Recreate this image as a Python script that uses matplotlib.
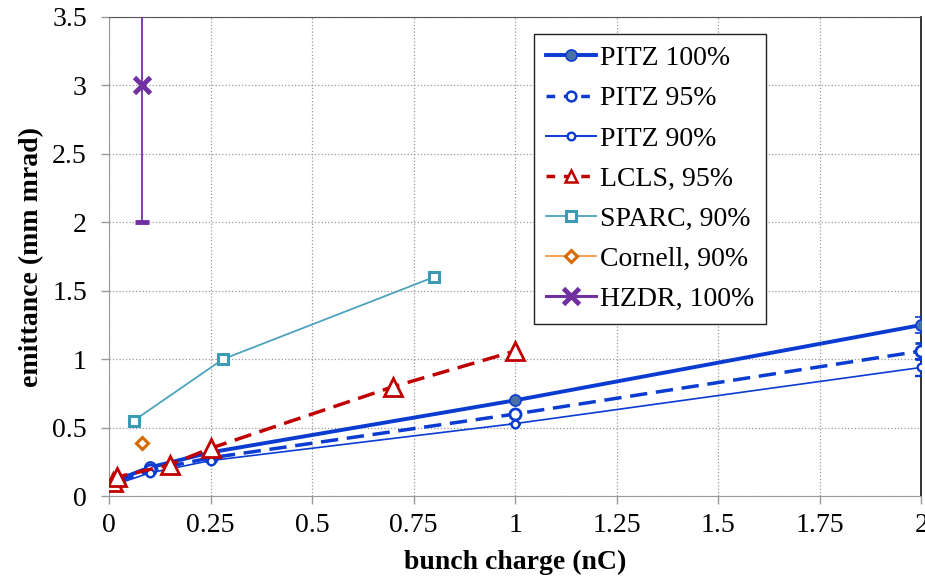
import matplotlib
matplotlib.use('Agg')
import matplotlib.pyplot as plt
from matplotlib.lines import Line2D
import numpy as np

plt.rcParams['font.family'] = ['Liberation Serif', 'DejaVu Serif']

# PITZ
q_pitz = [0.02, 0.1, 0.25, 1.0, 2.0]
pitz100 = [0.12, 0.21, 0.32, 0.70, 1.25]
pitz95 = [0.10, 0.19, 0.28, 0.60, 1.06]
pitz90 = [0.09, 0.17, 0.26, 0.53, 0.94]
pitz_err = [0.0, 0.0, 0.0, 0.0, 0.06]

q_lcls = [0.01, 0.02, 0.15, 0.25, 0.7, 1.0]
lcls95 = [0.10, 0.14, 0.23, 0.35, 0.80, 1.06]

q_sparc = [0.06, 0.28, 0.8]
sparc90 = [0.55, 1.0, 1.6]

q_cornell = [0.08]
cornell90 = [0.39]

q_hzdr = [0.08]
hzdr100 = [3.0]
hzdr_err_lo = [1.0]
hzdr_err_hi = [1.0]

xticks = [0, 0.25, 0.5, 0.75, 1, 1.25, 1.5, 1.75, 2]
xticklabels = ['0', '0.25', '0.5', '0.75', '1', '1.25', '1.5', '1.75', '2']
yticks = [0, 0.5, 1, 1.5, 2, 2.5, 3, 3.5]
yticklabels = ['0', '0.5', '1', '1.5', '2', '2.5', '3', '3.5']

fig = plt.figure(figsize=(9.25, 5.81), dpi=100)
ax = fig.add_axes([0.118, 0.146, 0.878, 0.825])

blue = '#0A3CD2'
red = '#C00000'
teal = '#4BA3BD'
purple = '#7030A0'
dash = (0, (5, 2.5))

ax.errorbar(q_pitz, pitz100, yerr=pitz_err, color=blue, lw=2.8, marker='o', ms=8,
            mfc='#4A70A8', mec=blue, mew=1.2, capsize=4, capthick=1, elinewidth=1, zorder=5)
ax.errorbar(q_pitz, pitz95, yerr=pitz_err, color=blue, lw=2.5, ls=dash, marker='o', ms=8,
            mfc='white', mec=blue, mew=2, capsize=4, capthick=1, elinewidth=1, zorder=5)
ax.errorbar(q_pitz, pitz90, yerr=pitz_err, color=blue, lw=1.2, marker='o', ms=5.5,
            mfc='white', mec=blue, mew=1.7, capsize=4, capthick=1, elinewidth=1, zorder=5)
ax.plot(q_lcls, lcls95, color=red, lw=2.5, ls=dash, marker='^', ms=13,
        mfc='white', mec=red, mew=2, zorder=6)
ax.plot(q_sparc, sparc90, color=teal, lw=1.3, marker='s', ms=7,
        mfc='white', mec='#3D9AB5', mew=2.2, zorder=4)
ax.plot(q_cornell, cornell90, color='#F79646', lw=1.3, marker='D', ms=6,
        mfc='white', mec='#D46A00', mew=2.2, zorder=4)
ax.errorbar(q_hzdr, hzdr100, yerr=[hzdr_err_lo, hzdr_err_hi], color=purple, lw=2.2, ls='none',
            marker='x', ms=11, mew=3.5, capsize=5, capthick=1.2, elinewidth=1.3, zorder=4)

ax.set_xlim(0, 2)
ax.set_ylim(0, 3.5)
ax.set_xticks(xticks)
ax.set_xticklabels(xticklabels)
ax.set_yticks(yticks)
ax.set_yticklabels(yticklabels)
ax.tick_params(labelsize=20, color='#999999', length=6, width=1)
ax.tick_params(axis='x', pad=6)
ax.tick_params(axis='y', pad=10)
ax.grid(True, color='#999999', ls=':', lw=0.9)
ax.set_axisbelow(True)
for side in ['left', 'bottom']:
    ax.spines[side].set_color('#999999')
ax.spines['top'].set_color('#555555')
ax.spines['right'].set_color('#222222')
ax.spines['right'].set_linewidth(1.3)

ax.set_xlabel('bunch charge (nC)', fontsize=20, fontweight='bold', labelpad=9)
ax.set_ylabel('emittance (mm mrad)', fontsize=20, fontweight='bold', labelpad=6)

handles = [
    Line2D([], [], color=blue, lw=2.8, marker='o', ms=8, mfc='#4A70A8', mec=blue, mew=1.2),
    Line2D([], [], color=blue, lw=2.5, ls=(0, (2.5, 2.5)), marker='o', ms=7, mfc='white', mec=blue, mew=1.8),
    Line2D([], [], color=blue, lw=1.4, marker='o', ms=5.5, mfc='white', mec=blue, mew=1.7),
    Line2D([], [], color=red, lw=2.5, ls=(0, (2.5, 2.5)), marker='^', ms=9, mfc='white', mec=red, mew=1.8),
    Line2D([], [], color=teal, lw=1.3, marker='s', ms=7, mfc='white', mec='#3D9AB5', mew=2.2),
    Line2D([], [], color='#F79646', lw=1.3, marker='D', ms=6, mfc='white', mec='#D46A00', mew=2.2),
    Line2D([], [], color=purple, lw=2.2, marker='x', ms=11, mew=3.5),
]
labels = ['PITZ 100%', 'PITZ 95%', 'PITZ 90%', 'LCLS, 95%', 'SPARC, 90%', 'Cornell, 90%', 'HZDR, 100%']
leg = ax.legend(handles, labels, loc='upper left', bbox_to_anchor=(0.523, 0.964), fontsize=20,
                frameon=True, fancybox=False, edgecolor='#222222', framealpha=1, handlelength=1.8,
                labelspacing=0.53, borderpad=0.42, handletextpad=0.15, borderaxespad=0)
leg.get_frame().set_linewidth(1)

fig.savefig('out.png', dpi=100)
